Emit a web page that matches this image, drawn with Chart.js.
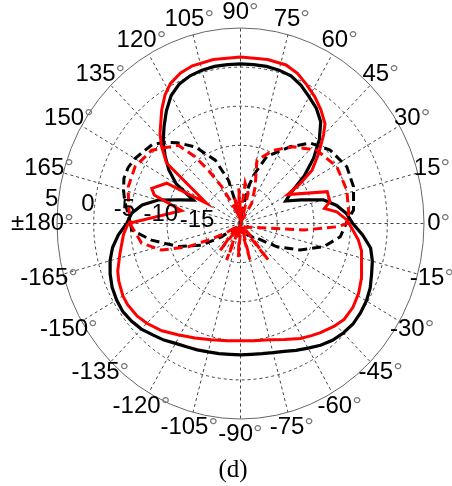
<!DOCTYPE html>
<html><head><meta charset="utf-8">
<script src="https://cdn.jsdelivr.net/npm/chart.js@4.4.0/dist/chart.umd.min.js"></script>
<style>html,body{margin:0;padding:0;background:#fff;}canvas{display:block;}</style>
</head><body>
<canvas id="c" width="452" height="486"></canvas>
<script>
// ---- axis / tick data ----
const DB_MIN = -20;            // dB value at the centre
const DB_MAX = 5;              // dB value at the outer circle
const ringTicks = [-15, -10, -5, 0, 5];
const ringLabels = ['-15', '-10', '-5', '0', '5'];
const angleTicks = [0,15,30,45,60,75,90,105,120,135,150,165,180,-165,-150,-135,-120,-105,-90,-75,-60,-45,-30,-15];
const angleLabels = ['0','15','30','45','60','75','90','105','120','135','150','165','\u00b1180','-165','-150','-135','-120','-105','-90','-75','-60','-45','-30','-15'];
const caption = '(d)';

// ---- series: black solid ----
const blackSolidAng = [-180,-175,-170,-165,-160,-155,-150,-145,-140,-135,-130,-125,-120,-115,-110,-105,-100,-95,-90,-85,-80,-75,-70,-65,-60,-55,-50,-45,-40,-35,-30,-25,-20,-15,-10,-5,0,5,10,15,20,25,30,35,40,45,50,55,60,65,70,75,80,85,90,95,100,105,110,115,120,125,130,135,140,145,150,155,160,165,170,175,180];
const blackSolidDb  = [-4.5,-3.3,-2.3,-1.6,-1.1,-0.7,-0.5,-0.4,-0.6,-0.9,-1.4,-1.8,-2.3,-2.6,-2.8,-3.0,-3.1,-3.2,-3.2,-3.2,-3.1,-2.9,-2.6,-2.1,-1.6,-1.0,-0.5,-0.2,0.0,-0.05,-0.2,-0.5,-1.0,-1.4,-2.0,-3.3,-4.7,-5.5,-6.7,-8.3,-11.2,-13.2,-12.0,-9.4,-7.0,-4.8,-3.0,-2.0,-1.3,-0.5,0.1,0.3,0.4,0.4,0.4,0.4,0.4,0.3,0.1,-0.3,-1.1,-2.4,-3.8,-5.1,-6.6,-8.1,-9.9,-12.9,-11.2,-8.4,-6.4,-5.1,-4.5];

// ---- series: red solid ----
const redSolidAng = [-180,-175,-167,-160,-156,-150,-146,-140,-135,-128,-121,-113,-105,-97,-90,-83,-75,-68,-61,-56,-52,-46,-41,-35,-29,-23,-17,-12,-7.5,-3,1.8,6.5,9.6,12.9,19,30,32,35,40,45,48,53,58,63,68,73,80,90,100,108,113,118,122,126.5,133.6,137.6,142.5,150.7,152.9,159.6,162.8,168.4,180];
const redSolidDb  = [-4.7,-4.0,-3.15,-2.2,-1.85,-1.5,-1.45,-1.6,-1.95,-2.6,-3.4,-4.1,-4.6,-4.9,-5.0,-4.9,-4.6,-4.0,-3.2,-2.7,-2.3,-1.7,-1.3,-1.3,-1.6,-2.1,-2.7,-3.2,-3.8,-4.7,-5.5,-6.8,-8.4,-7.5,-7.5,-12.6,-10.5,-8.1,-6.1,-4.0,-2.8,-1.8,-0.9,-0.1,0.7,1.2,1.3,1.3,1.3,1.2,0.9,0.3,-0.6,-1.95,-4.1,-5.45,-7.3,-14.7,-8.7,-7.1,-7.7,-11.8,-4.7];

// ---- series: black dashed ----
const blackDashAng = [-180,-176.8,-170,-161,-152.5,-146.6,-140,-125,-110,-95,-80,-65,-50,-45,-40,-31,-22.6,-14.7,-7.1,0.9,6.4,17,26.6,37.6,47.3,55.5,67.3,73,77.3,78.5,85,90,95,103,104.5,106.6,113,122.3,130,135,140,145,150,155,160,165,170,175,180];
const blackDashDb  = [-5.0,-5.15,-7.7,-11.0,-14.0,-16.9,-19.0,-18.5,-19.5,-18.5,-19.5,-18.5,-18.0,-17.2,-17.1,-14.2,-11.2,-8.3,-6.3,-5.5,-4.5,-3.9,-3.8,-4.6,-6.0,-8.1,-10.7,-13.3,-15.2,-16.9,-19.2,-20,-19.2,-17.8,-16.9,-14.2,-11.2,-8.4,-6.5,-5.3,-4.3,-3.9,-3.4,-3.1,-3.1,-3.5,-4.0,-4.6,-5.0];

// ---- series: red dashed ----
const redDashAng = [-180,-178.4,-169.4,-162.5,-157.3,-154.3,-149,-140,-129,-121,-112,-104,-94,-85,-74.5,-65,-51,-45,-30,-15,-8.5,-5.5,-1.8,0,5,16.4,28.9,42,53.6,64.3,74.5,67,59.3,65,75,83,88,93,98,103,109,115.5,118.6,122.7,126,130.2,142.2,153.2,162.9,172,180];
const redDashDb  = [-5.0,-5.2,-6.3,-8.7,-12.3,-15.1,-17.5,-19.5,-15.6,-19.3,-15.0,-19.5,-15.7,-19.5,-15.2,-19.5,-14.0,-19.5,-19.0,-18.2,-15.9,-11.3,-6.8,-5.5,-5.2,-4.9,-5.0,-6.0,-7.8,-9.6,-11.6,-14.9,-17.0,-19.5,-16.0,-14.8,-19.0,-15.5,-19.0,-16.5,-18.5,-16.7,-14.6,-11.9,-9.45,-6.9,-4.7,-3.9,-4.0,-4.6,-5.0];

const RMAX = DB_MAX - DB_MIN;
function toXY(angs, dbs) {
  return angs.map((a, i) => {
    const r = Math.max(0, dbs[i] - DB_MIN);
    const t = a * Math.PI / 180;
    return { x: r * Math.cos(t), y: r * Math.sin(t) };
  });
}

const FONT = '24px "Liberation Sans", Arial, sans-serif';

const polarGrid = {
  id: 'polarGrid',
  geom(chart) {
    const x = chart.scales.x, y = chart.scales.y;
    const cx = x.getPixelForValue(0), cy = y.getPixelForValue(0);
    const rx = x.getPixelForValue(RMAX) - cx, ry = cy - y.getPixelForValue(RMAX);
    return { cx, cy, rx, ry };
  },
  beforeDatasetsDraw(chart) {
    const ctx = chart.ctx;
    const { cx, cy, rx, ry } = this.geom(chart);
    ctx.save();
    ctx.lineWidth = 1;
    ctx.strokeStyle = '#444';
    ctx.setLineDash([3, 3]);
    ringTicks.forEach(v => {
      const f = (v - DB_MIN) / RMAX;
      if (f >= 1) return;
      ctx.beginPath();
      ctx.ellipse(cx, cy, rx * f, ry * f, 0, 0, 2 * Math.PI);
      ctx.stroke();
    });
    angleTicks.forEach(a => {
      const t = a * Math.PI / 180;
      ctx.beginPath();
      ctx.moveTo(cx, cy);
      ctx.lineTo(cx + rx * Math.cos(t), cy - ry * Math.sin(t));
      ctx.stroke();
    });
    ctx.setLineDash([]);
    ctx.strokeStyle = '#666';
    ctx.beginPath();
    ctx.ellipse(cx, cy, rx, ry, 0, 0, 2 * Math.PI);
    ctx.stroke();
    ctx.restore();
  },
  afterDatasetsDraw(chart) {
    const ctx = chart.ctx;
    const { cx, cy, rx, ry } = this.geom(chart);
    ctx.save();
    ctx.font = FONT;
    ctx.textBaseline = 'middle';
    ctx.textAlign = 'left';
    angleTicks.forEach((a, i) => {
      const t = a * Math.PI / 180;
      const px = cx + rx * 1.08 * Math.cos(t);
      const py = cy - ry * 1.08 * Math.sin(t);
      const num = angleLabels[i];
      const w1 = ctx.measureText(num).width;
      const w2 = ctx.measureText('\u00b0').width;
      const sx = px - (w1 + w2) / 2;
      ctx.fillStyle = '#000';
      ctx.fillText(num, sx, py);
      ctx.fillStyle = '#777';
      ctx.fillText('\u00b0', sx + w1, py);
    });
    ctx.textAlign = 'center';
    ctx.fillStyle = '#000';
    const la = 172.5 * Math.PI / 180;
    ringTicks.forEach((v, i) => {
      const f = (v - DB_MIN) / RMAX;
      const px = cx + rx * f * Math.cos(la) - 7;
      const py = cy - ry * f * Math.sin(la) + 1.5;
      ctx.fillText(ringLabels[i], px, py);
    });
    ctx.font = '25px "Liberation Serif", "Times New Roman", serif';
    ctx.fillText(caption, 233, 470);
    ctx.restore();
  }
};

const common = { showLine: true, pointRadius: 0, fill: false, tension: 0 };
new Chart(document.getElementById('c'), {
  type: 'scatter',
  data: {
    datasets: [
      Object.assign({ data: toXY(redSolidAng, redSolidDb), borderColor: '#ff0000', borderWidth: 3, order: 0 }, common),
      Object.assign({ data: toXY(redDashAng, redDashDb), borderColor: '#ff0000', borderWidth: 3, borderDash: [9, 5], order: 1 }, common),
      Object.assign({ data: toXY(blackSolidAng, blackSolidDb), borderColor: '#000000', borderWidth: 3.2, order: 2 }, common),
      Object.assign({ data: toXY(blackDashAng, blackDashDb), borderColor: '#000000', borderWidth: 3, borderDash: [9, 5], order: 3 }, common)
    ]
  },
  options: {
    responsive: false,
    animation: false,
    layout: { padding: { left: 57, right: 28, top: 28, bottom: 67 } },
    scales: {
      x: { type: 'linear', min: -RMAX, max: RMAX, display: false },
      y: { type: 'linear', min: -RMAX, max: RMAX, display: false }
    },
    plugins: { legend: { display: false }, tooltip: { enabled: false } }
  },
  plugins: [polarGrid]
});
</script>
</body></html>
